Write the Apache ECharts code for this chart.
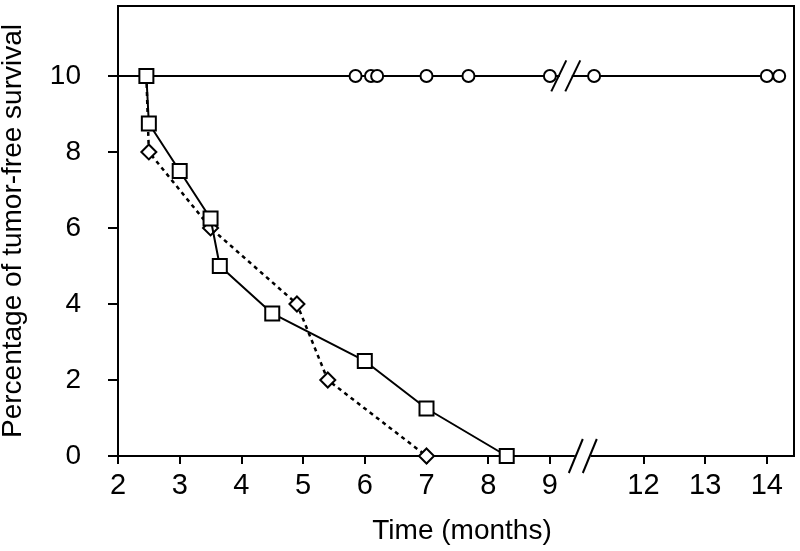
<!DOCTYPE html>
<html><head><meta charset="utf-8">
<script src="https://cdn.jsdelivr.net/npm/echarts@6/dist/echarts.min.js"></script>
<style>html,body{margin:0;padding:0;background:#fff}#c{width:800px;height:551px}</style>
</head><body><div id="c"></div>
<script>
// ---- data ----
const xTickLabels = [2, 3, 4, 5, 6, 7, 8, 9, 12, 13, 14];
const yTickLabels = [0, 2, 4, 6, 8, 10];
const circleTime = [2, 5.85, 6.1, 6.2, 7.0, 7.68, 9.0, 11.2, 14.0, 14.2];
const circlePct  = [10, 10, 10, 10, 10, 10, 10, 10, 10, 10];
const squareTime = [2.46, 2.5, 3.0, 3.5, 3.65, 4.5, 6.0, 7.0, 8.3];
const squarePct  = [10, 8.75, 7.5, 6.25, 5, 3.75, 2.5, 1.25, 0];
const diamondTime = [2.46, 2.5, 3.5, 4.9, 5.4, 7.0];
const diamondPct  = [10, 8, 6, 4, 2, 0];
const breakStart = 9.45, breakEnd = 11.1, breakGap = 0.166;

const FONT = "'Liberation Sans', Arial, Helvetica, sans-serif";
const chart = echarts.init(document.getElementById('c'), null, {renderer: 'canvas'});

function pts(xs, ys, hideFirst) {
  return xs.map((x, i) => (hideFirst && i === 0) ? {value: [x, ys[i]], symbol: 'none'} : [x, ys[i]]);
}

const option = {
  backgroundColor: '#fff',
  animation: false,
  grid: {left: 118, right: 6, top: 6, bottom: 95, containLabel: false, outerBoundsMode: 'none',
    show: true, borderColor: '#000', borderWidth: 2, backgroundColor: 'transparent'},
  xAxis: {
    type: 'value', min: 2, max: 14.44,
    breaks: [{start: breakStart, end: breakEnd, gap: breakGap}],
    breakArea: {show: false},
    axisLine: {show: true, onZero: false, lineStyle: {color: '#000', width: 2}},
    axisTick: {show: true, length: 8, lineStyle: {color: '#000', width: 2}, customValues: xTickLabels},
    axisLabel: {color: '#000', fontSize: 29, fontFamily: FONT, margin: 15, customValues: xTickLabels},
    splitLine: {show: false},
    name: 'Time (months)', nameLocation: 'middle', nameGap: 61,
    nameTextStyle: {color: '#000', fontSize: 28, fontFamily: FONT, padding: [0, 0, 0, 12]}
  },
  yAxis: {
    type: 'value', min: 0, max: 11.84,
    axisLine: {show: true, lineStyle: {color: '#000', width: 2}},
    axisTick: {show: true, length: 10, lineStyle: {color: '#000', width: 2}, customValues: yTickLabels},
    axisLabel: {color: '#000', fontSize: 28, fontFamily: FONT, margin: 37, customValues: yTickLabels},
    splitLine: {show: false},
    name: 'Percentage of tumor-free survival', nameLocation: 'middle', nameGap: 91,
    nameTextStyle: {color: '#000', fontSize: 28, fontFamily: FONT}
  },
  series: [
    {
      type: 'line', name: 'circles', data: pts(circleTime, circlePct, true),
      symbol: 'circle', symbolSize: 12, showAllSymbol: true,
      lineStyle: {color: '#000', width: 2},
      itemStyle: {color: '#fff', borderColor: '#000', borderWidth: 2}, z: 3
    },
    {
      type: 'line', name: 'diamonds', data: pts(diamondTime, diamondPct, true),
      symbol: 'diamond', symbolSize: 15, showAllSymbol: true,
      lineStyle: {color: '#000', width: 2.5, type: [4, 4]},
      itemStyle: {color: '#fff', borderColor: '#000', borderWidth: 2}, z: 4
    },
    {
      type: 'line', name: 'squares', data: pts(squareTime, squarePct, false),
      symbol: 'rect', symbolSize: 14, showAllSymbol: true,
      lineStyle: {color: '#000', width: 2},
      itemStyle: {color: '#fff', borderColor: '#000', borderWidth: 2}, z: 5
    }
  ]
};
chart.setOption(option);

// break marks (decoration) positioned from the axis scale
const xa = chart.convertToPixel({xAxisIndex: 0}, breakStart);
const xb = chart.convertToPixel({xAxisIndex: 0}, breakEnd);
const cB = (xa + xb) / 2;
const y0 = chart.convertToPixel({yAxisIndex: 0}, 0);
const y10 = chart.convertToPixel({yAxisIndex: 0}, 10);
const cT = cB - 17;
function slash(cx, cy, w, h) {
  return {type: 'line', shape: {x1: cx - w / 2, y1: cy + h / 2, x2: cx + w / 2, y2: cy - h / 2},
    style: {stroke: '#000', lineWidth: 2}, z: 100};
}
chart.setOption({
  graphic: [
    {type: 'rect', shape: {x: cB - 8, y: y0 - 3, width: 16, height: 6}, style: {fill: '#fff'}, z: 99},
    slash(cB - 7, y0, 14, 34), slash(cB + 7, y0, 14, 34),
    {type: 'rect', shape: {x: cT - 6, y: y10 - 3, width: 12, height: 6}, style: {fill: '#fff'}, z: 99},
    slash(cT - 7, y10, 15, 31), slash(cT + 7, y10, 15, 31)
  ]
});
</script>
</body></html>
